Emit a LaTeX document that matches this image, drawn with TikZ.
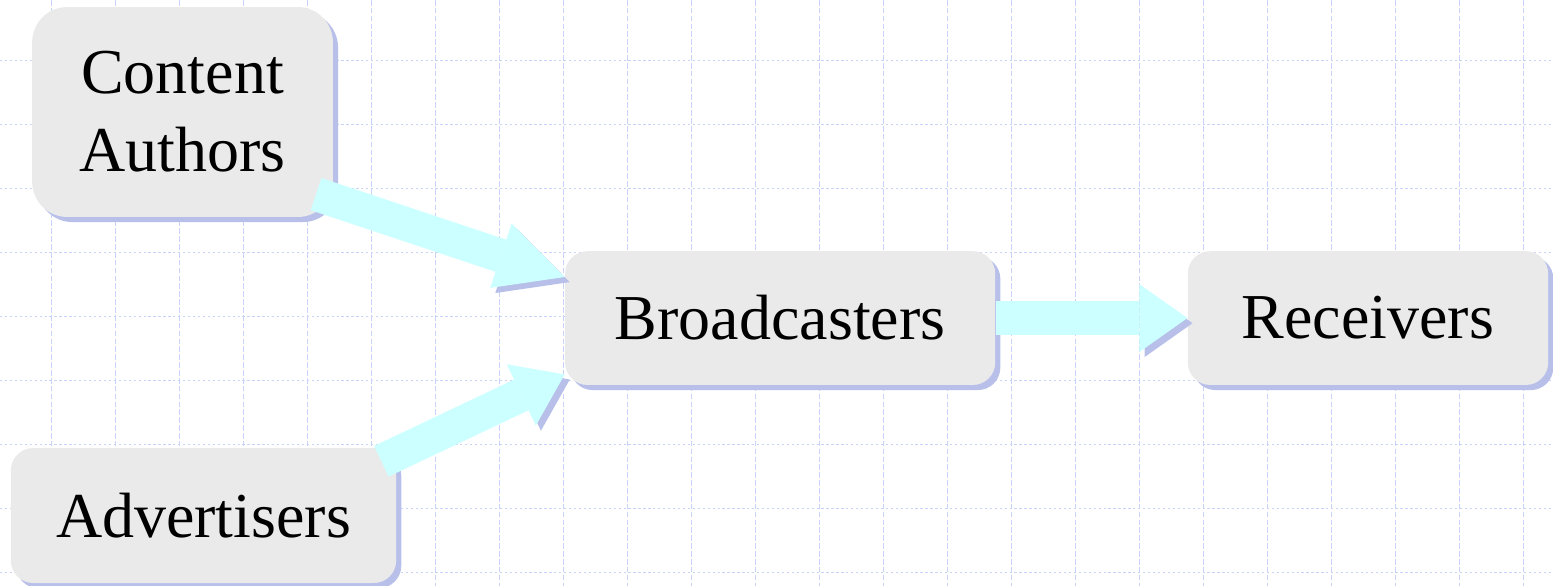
\documentclass[tikz,border=0pt]{standalone}
\usepackage{fontspec}
\setmainfont{Liberation Serif}
\usetikzlibrary{arrows.meta, shadows}
\definecolor{boxfill}{HTML}{EAEAEA}
\definecolor{boxshade}{HTML}{B8C0EA}
\definecolor{flowcyan}{HTML}{CCFFFF}
\definecolor{gridblue}{HTML}{C9D3F7}

\begin{document}
\begin{tikzpicture}[
    every node/.style={font=\fontsize{28.45}{34.7}\selectfont},
    party/.style={fill=boxfill, rounded corners=0.35cm, align=center, inner sep=0pt, drop shadow={shadow xshift=0.08cm, shadow yshift=-0.08cm, fill=boxshade, opacity=1}},
    flow/.style={-{Triangle[length=#1, width=1.06cm, line width=0pt]}, line width=0.53cm, draw=flowcyan, preaction={draw=boxshade, transform canvas={shift={(0.08cm,-0.08cm)}}}},
    flow/.default=0.75cm,
    gridv/.style={draw=gridblue, line width=0.45pt, dash pattern=on 2.5pt off 1pt},
    gridh/.style={draw=gridblue, line width=0.45pt, dash pattern=on 1pt off 1.2pt}
]
\useasboundingbox (0,0) rectangle (24.266,-9.156);

% Background grid
\foreach \gx in {0,...,23} \draw[gridv] (0.797+\gx,0) -- (0.797+\gx,-9.156);
\foreach \gy in {0,...,8} \draw[gridh] (0,-0.95-\gy) -- (24.266,-0.95-\gy);

% Parties
\node[party, rounded corners=0.55cm, minimum width=4.70cm, minimum height=3.28cm] (authors) at (2.852,-1.75) {Content\\ Authors};
\node[party, minimum width=6.72cm, minimum height=2.09cm] (broadcast) at (12.19,-4.97) {Broadcasters};
\node[party, minimum width=5.63cm, minimum height=2.09cm] (receive) at (21.375,-4.97) {Receivers};
\node[party, minimum width=6.02cm, minimum height=2.11cm] (advert) at (3.18,-8.055) {Advertisers};

% Flows
\draw[flow=1.05cm] ([shift={(-0.27,0.364)}]authors.south east) -- ([yshift=-0.41cm]broadcast.north west);
\draw[flow] ([shift={(-0.238,-0.214)}]advert.north east) -- ([yshift=0.172cm]broadcast.south west);
\draw[flow] (broadcast.east) -- (receive.west);

\end{tikzpicture}
\end{document}
